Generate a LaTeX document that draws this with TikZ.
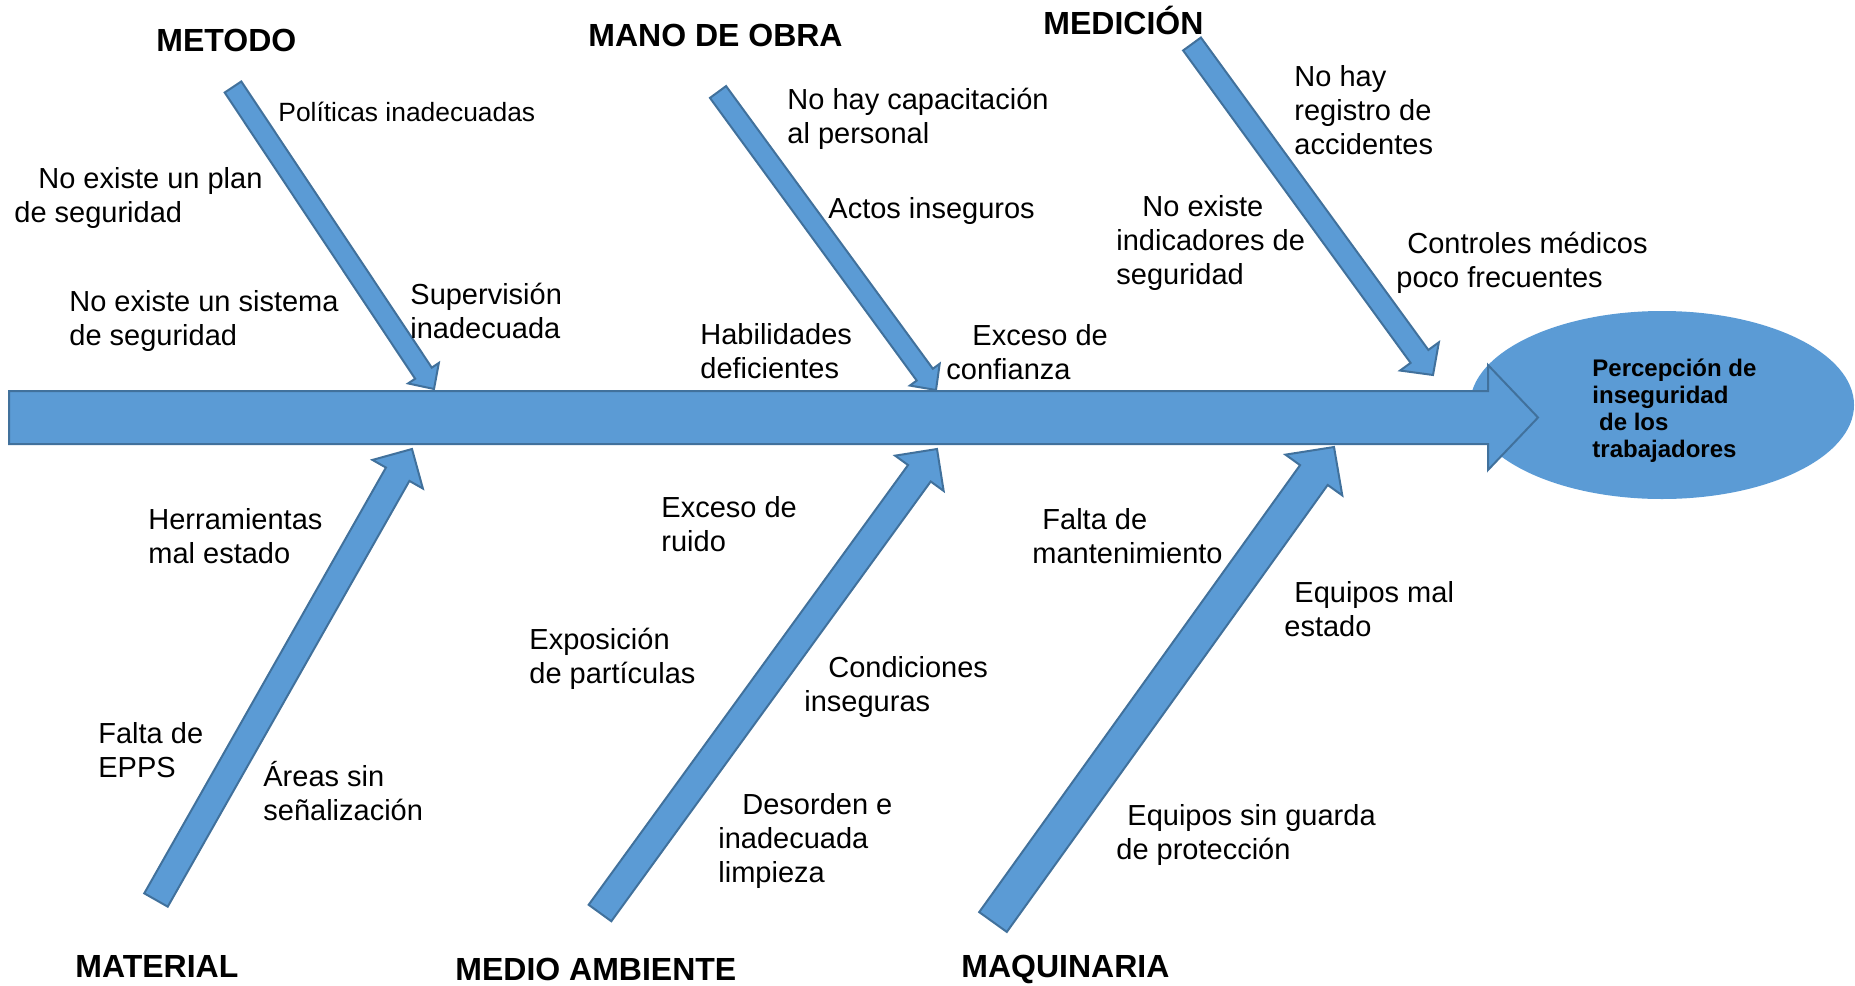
\documentclass[tikz,border=0pt]{standalone}
\usepackage{fontspec}
\setmainfont{Liberation Sans}
\usetikzlibrary{calc, shapes.geometric}

\definecolor{bonefill}{RGB}{91,155,213}
\definecolor{boneline}{RGB}{65,113,156}

\begin{document}
\begin{tikzpicture}[x=0.5pt, y=-0.5pt,
		bone/.style={fill=bonefill, draw=boneline, line width=1pt, line join=miter},
		cause/.style={anchor=base west, inner sep=0pt, align=left, font=\fontsize{14.5}{17}\selectfont},
		group/.style={anchor=base west, inner sep=0pt, font=\fontsize{16}{19}\selectfont\bfseries}]

			\useasboundingbox (0,0) rectangle (1855,985);

			% block arrow: tail, tip, half shaft, half head, head length (pt)
			\def\bone#1#2#3#4#5{%
				\draw[bone] let \p1=($(#2)-(#1)$), \n1={atan2(\y1,\x1)}, \n2={veclen(\x1,\y1)-#5} in
					($(#1)+(\n1+90:#3)$) -- ($(#1)+(\n1:\n2)+(\n1+90:#3)$)
					-- ($(#1)+(\n1:\n2)+(\n1+90:#4)$) -- (#2)
					-- ($(#1)+(\n1:\n2)+(\n1-90:#4)$) -- ($(#1)+(\n1:\n2)+(\n1-90:#3)$)
					-- ($(#1)+(\n1-90:#3)$) -- cycle;}

			\node (effect) [ellipse, fill=bonefill, minimum width=192pt, minimum height=94pt, inner sep=0pt] at (1662,405) {};

			\coordinate (spine-tail) at (9,417.5);
			\coordinate (spine-tip) at (1538,417.5);
			\bone{spine-tail}{spine-tip}{13.25pt}{26.25pt}{25pt}

			\node[anchor=base west, inner sep=0pt, align=left, font=\fontsize{12}{13.4}\selectfont\bfseries] (effect-text) at (1592,457)
				{Percepción de\\inseguridad\\\ de los\\trabajadores};

			\node[group] (metodo) at (156,51) {METODO};
			\node[group] (mano) at (588,46) {MANO DE OBRA};
			\node[group] (medicion) at (1043,34) {MEDICIÓN};
			\node[group] (material) at (75,977) {MATERIAL};
			\node[group] (medio) at (455,980) {MEDIO AMBIENTE};
			\node[group] (maquinaria) at (961,977) {MAQUINARIA};

			\coordinate (metodo-tail) at (233,87);
			\coordinate (metodo-tip) at (434,389);
			\coordinate (mano-tail) at (718,92);
			\coordinate (mano-tip) at (936,390);
			\coordinate (medicion-tail) at (1192,44);
			\coordinate (medicion-tip) at (1433,375);
			\coordinate (material-tail) at (156,900);
			\coordinate (material-tip) at (412,449);
			\coordinate (medio-tail) at (600,913);
			\coordinate (medio-tip) at (937,449);
			\coordinate (maquinaria-tail) at (993,922);
			\coordinate (maquinaria-tip) at (1334,447);

			\bone{metodo-tail}{metodo-tip}{5pt}{9.25pt}{9.5pt}
			\bone{mano-tail}{mano-tip}{5pt}{9.25pt}{9.5pt}
			\bone{medicion-tail}{medicion-tip}{5.5pt}{12pt}{11.5pt}
			\bone{material-tail}{material-tip}{6.75pt}{14.5pt}{14.5pt}
			\bone{medio-tail}{medio-tip}{7pt}{15pt}{15pt}
			\bone{maquinaria-tail}{maquinaria-tip}{8.5pt}{17.5pt}{17.25pt}

			% causes (anchored at the baseline of the last line)
			\node[cause, font=\fontsize{13.2}{16}\selectfont] (politicas) at (278,121) {Políticas inadecuadas};
			\node[cause] (plan) at (14,222) {\hspace*{12pt}No existe un plan\\de seguridad};
			\node[cause] (sistema) at (69,345) {No existe un sistema\\de seguridad};
			\node[cause] (supervision) at (410,338) {Supervisión\\inadecuada};

			\node[cause] (capacitacion) at (787,143) {No hay capacitación\\al personal};
			\node[cause] (actos) at (828,218) {Actos inseguros};
			\node[cause] (habilidades) at (700,378) {Habilidades\\deficientes};
			\node[cause] (confianza) at (946,379) {\hspace*{13pt}Exceso de\\confianza};

			\node[cause] (registro) at (1294,154) {No hay\\registro de\\accidentes};
			\node[cause] (indicadores) at (1116,284) {\hspace*{13pt}No existe\\indicadores de\\seguridad};
			\node[cause] (controles) at (1396,287) {\hspace*{5.5pt}Controles médicos\\poco frecuentes};

			\node[cause] (herramientas) at (148,563) {Herramientas\\mal estado};
			\node[cause] (epps) at (98,777) {Falta de\\EPPS};
			\node[cause] (areas) at (263,820) {Áreas sin\\señalización};

			\node[cause] (ruido) at (661,551) {Exceso de\\ruido};
			\node[cause] (particulas) at (529,683) {Exposición\\de partículas};
			\node[cause] (condiciones) at (804,711) {\hspace*{12pt}Condiciones\\inseguras};
			\node[cause] (desorden) at (718,882) {\hspace*{12pt}Desorden e\\inadecuada\\limpieza};

			\node[cause] (mantenimiento) at (1032,563) {\hspace*{5pt}Falta de\\mantenimiento};
			\node[cause] (equipos-mal) at (1284,636) {\hspace*{5pt}Equipos mal\\estado};
			\node[cause] (equipos-sin) at (1116,859) {\hspace*{5.5pt}Equipos sin guarda\\de protección};
		\end{tikzpicture}
\end{document}
